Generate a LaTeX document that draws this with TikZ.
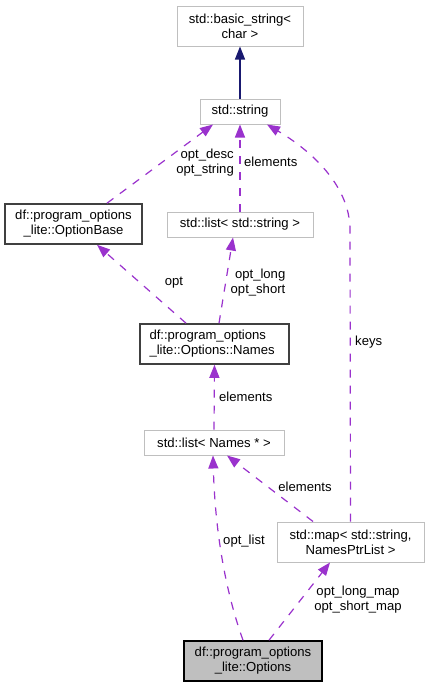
\documentclass[tikz,border=0pt]{standalone}
\usepackage{fontspec}
\setmainfont{Liberation Sans}
\usetikzlibrary{arrows.meta}
\definecolor{edgepurple}{HTML}{9A32CD}
\definecolor{edgenavy}{HTML}{191970}
\definecolor{boxgray}{HTML}{BFBFBF}
\definecolor{boxdark}{HTML}{404040}
\definecolor{fillgray}{HTML}{BFBFBF}
\tikzset{
  every node/.style={font=\fontsize{13.1}{15}\selectfont},
  cls/.style={draw=boxgray, line width=1pt, fill=white, inner sep=0pt, align=center},
  doc/.style={draw=boxdark, line width=1.6pt, fill=white, inner sep=0pt, align=center},
  cur/.style={draw=black, line width=1.6pt, fill=fillgray, inner sep=0pt, align=center},
  dep/.style={draw=edgepurple, line width=1.2pt, dash pattern=on 8pt off 8pt, -{Triangle[length=13pt,width=10pt,fill=edgepurple]}},
  inh/.style={draw=edgenavy, line width=1.2pt, -{Triangle[length=13pt,width=10pt,fill=edgenavy]}},
  lbl/.style={inner sep=0pt, align=center}
}
\begin{document}
\begin{tikzpicture}[x=1pt,y=-1pt]
\useasboundingbox[fill=white] (0,0) rectangle (429,688);
% nodes
\node[cls, minimum width=126, minimum height=40] (bs) at (240,26) {std::basic\_string<\\char >};
\node[cls, minimum width=80, minimum height=25] (str) at (240,111.5) {std::string};
\node[doc, minimum width=137, minimum height=40] (ob) at (73.5,224) {df::program\_options\\\_lite::OptionBase};
\node[cls, minimum width=146, minimum height=25] (ls) at (240,224.5) {std::list< std::string >};
\node[doc, minimum width=149, minimum height=40, align=left, text width=130] (nm) at (214.5,344) {df::program\_options\\\_lite::Options::Names};
\node[cls, minimum width=140, minimum height=25] (ln) at (214,442.5) {std::list< Names * >};
\node[cls, minimum width=147, minimum height=40] (mp) at (350.5,542) {std::map< std::string,\\NamesPtrList >};
\node[cur, minimum width=138, minimum height=40] (op) at (253,661) {df::program\_options\\\_lite::Options};
% edges
\draw[inh] (str.north) -- (bs.south);
\draw[dep] ([xshift=33.5pt]ob.north) -- ([xshift=-27pt]str.south);
\draw[dep] (ls.north) -- (str.south);
\draw[dep] (mp.north) -- (350,230) .. controls (350,185) and (310,150) .. ([xshift=27pt]str.south);
\draw[dep] ([xshift=-28.5pt]nm.north) -- ([xshift=23.5pt]ob.south);
\draw[dep] ([xshift=4.5pt]nm.north) -- ([xshift=-7pt]ls.south);
\draw[dep] (ln.north) -- (nm.south);
\draw[dep] ([xshift=-37.5pt]mp.north) -- ([xshift=13pt]ln.south);
\draw[dep] ([xshift=-10pt]op.north) .. controls (225,590) and (215,530) .. ([xshift=-1pt]ln.south);
\draw[dep] ([xshift=16pt]op.north) -- ([xshift=-20.5pt]mp.south);
% labels
\node[lbl, align=right, anchor=east] (l1) at (234,163) {opt\_desc\\opt\_string};
\node[lbl, anchor=west] (l2) at (244,162) {elements};
\node[lbl, anchor=west] (l3) at (355,342) {keys};
\node[lbl] (l4) at (174,283) {opt};
\node[lbl, align=right] (l5) at (258,283) {opt\_long\\opt\_short};
\node[lbl, anchor=west] (l6) at (219,397) {elements};
\node[lbl] (l7) at (305,487) {elements};
\node[lbl] (l8) at (244,541) {opt\_list};
\node[lbl] (l9) at (358,600) {opt\_long\_map\\opt\_short\_map};
\end{tikzpicture}
\end{document}
